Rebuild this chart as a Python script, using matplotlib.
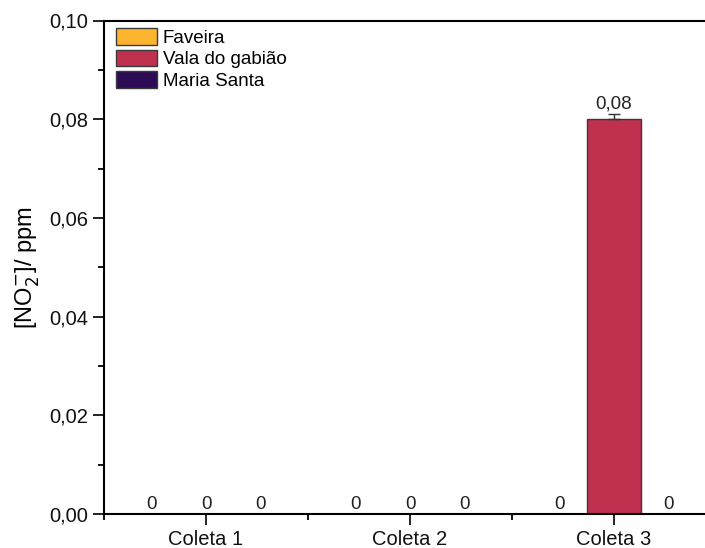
import numpy as np
import matplotlib.pyplot as plt
from matplotlib.ticker import FixedLocator, MultipleLocator, FuncFormatter

plt.rcParams['font.family'] = ['Liberation Sans', 'DejaVu Sans']

# %% data
coletas = ['Coleta 1', 'Coleta 2', 'Coleta 3']
locais = ['Faveira', 'Vala do gabião', 'Maria Santa']
faveira = [0, 0, 0]
vala = [0, 0, 0.08]
maria = [0, 0, 0]
vala_err = [0, 0, 0.001]
cores = ['#FDB42E', '#C0304F', '#2E0B55']

# %% plot
fig = plt.figure(figsize=(7.05, 5.48), dpi=100)
ax = fig.add_axes([104 / 705, 34 / 548, 612 / 705, 493.5 / 548])

x = np.arange(1, len(coletas) + 1)
w = 0.265
series = [faveira, vala, maria]
errs = [None, vala_err, None]
for i, (vals, nome, cor, err) in enumerate(zip(series, locais, cores, errs)):
    pos = x + (i - 1) * w
    yerr = None if err is None else [np.zeros(len(err)), err]
    ax.bar(pos, vals, width=w, color=cor, edgecolor='#3a3a3a', linewidth=1.0,
           label=nome, yerr=yerr,
           error_kw={'ecolor': '#333333', 'elinewidth': 1, 'capsize': 4.5, 'capthick': 1})
    for p, v, e in zip(pos, vals, err if err else [0] * len(vals)):
        txt = '0' if v == 0 else f'{v:.2f}'.replace('.', ',')
        ax.text(p, v + e + 0.0003, txt, ha='center', va='bottom', fontsize=13.5, color='#222222')

ax.set_xlim(0.5, 3.5)
ax.set_ylim(0, 0.10)
ax.set_xticks(x)
ax.set_xticklabels(coletas)
ax.xaxis.set_minor_locator(FixedLocator([0.5, 1.5, 2.5]))
ax.yaxis.set_major_locator(MultipleLocator(0.02))
ax.yaxis.set_minor_locator(MultipleLocator(0.01))
ax.yaxis.set_major_formatter(FuncFormatter(lambda v, p: f'{v:.2f}'.replace('.', ',')))
ax.tick_params(which='major', direction='out', length=8, width=1.3, labelsize=14.5, colors='#111111')
ax.tick_params(which='minor', direction='out', length=4.5, width=1.3)
for s in ax.spines.values():
    s.set_linewidth(1.5)
ax.spines['right'].set_visible(False)
ax.set_ylabel('[NO$_2^{-}$]/ ppm', fontsize=17, labelpad=6)

ax.legend(loc='upper left', bbox_to_anchor=(12 / 612, 1 - 7.5 / 493.5), frameon=False, fontsize=13.5,
          handlelength=2.2, handleheight=1.0, labelspacing=0.15, handletextpad=0.3,
          borderaxespad=0, borderpad=0)

fig.savefig('out.png', dpi=100)
